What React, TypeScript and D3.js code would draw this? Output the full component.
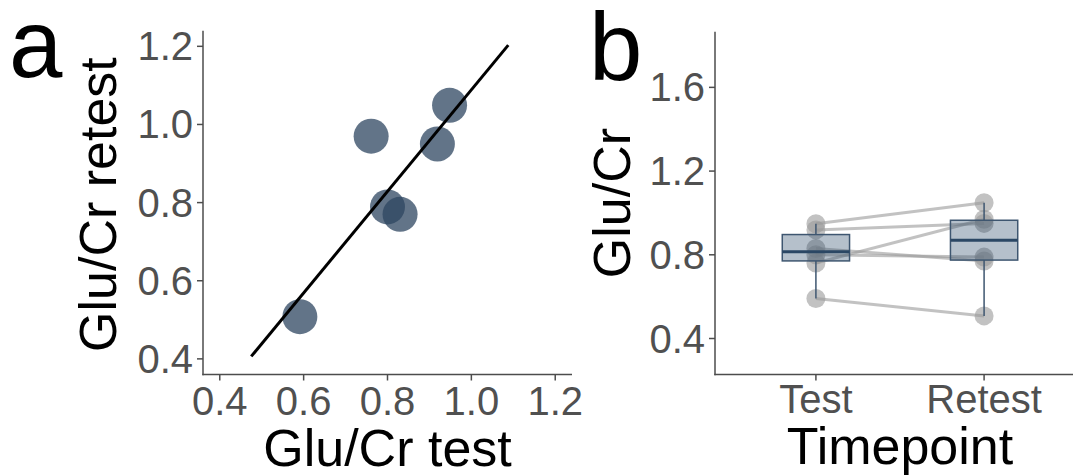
import React from "react";
import * as d3 from "d3";

const subjects = ["S1", "S2", "S3", "S4", "S5", "S6"];
const testValues = [0.761, 0.948, 0.919, 0.8, 0.83, 0.591];
const retestValues = [0.97, 1.049, 0.95, 0.789, 0.77, 0.508];
const timepoints = ["Test", "Retest"];
const scatterTicks = [0.4, 0.6, 0.8, 1.0, 1.2];
const boxTicks = [0.4, 0.8, 1.2, 1.6];
const fitRange = [0.475, 1.088];

const FONT = "'Liberation Sans', Arial, sans-serif";
const TICK_FS = 40;
const TITLE_FS = 52;

function regression(xs: number[], ys: number[]) {
  const mx = d3.mean(xs) as number;
  const my = d3.mean(ys) as number;
  let sxy = 0, sxx = 0;
  xs.forEach((x, i) => { sxy += (x - mx) * (ys[i] - my); sxx += (x - mx) ** 2; });
  const slope = sxy / sxx;
  return { slope, intercept: my - slope * mx };
}

function boxStats(vals: number[]) {
  const s = [...vals].sort(d3.ascending);
  const q1 = d3.quantileSorted(s, 0.25) as number;
  const med = d3.quantileSorted(s, 0.5) as number;
  const q3 = d3.quantileSorted(s, 0.75) as number;
  const iqr = q3 - q1;
  const lo = d3.min(s.filter((v) => v >= q1 - 1.5 * iqr)) as number;
  const hi = d3.max(s.filter((v) => v <= q3 + 1.5 * iqr)) as number;
  return { q1, med, q3, lo, hi };
}

export default function App() {
  // Panel a
  const xA = d3.scaleLinear().domain([0.36, 1.24]).range([203, 572]);
  const yA = d3.scaleLinear().domain([0.36, 1.24]).range([374.5, 30.7]);
  const fit = regression(testValues, retestValues);
  const fitLine = d3.line<number>().x((v) => xA(v)).y((v) => yA(fit.intercept + fit.slope * v));

  // Panel b
  const xB = d3.scalePoint<string>().domain(timepoints).range([715, 1085]).padding(0.6);
  const yB = d3.scaleLinear().domain([0.228, 1.866]).range([374.5, 31.7]);
  const step = xB.step();
  const boxHalf = step * 0.2;
  const series = [testValues, retestValues];

  const axisColor = "#4d4d4d";
  const tickColor = "#505050";

  return (
    <div style={{ position: "absolute", left: 0, top: 0 }}>
      <svg width={1073} height={476} style={{ display: "block", fontFamily: FONT }}>
        <rect width={1073} height={476} fill="#ffffff" />
        {/* Panel a */}
        <text x={9} y={77} fontSize={96} fill="#000">a</text>
        {scatterTicks.map((t) => (
          <g key={"ya" + t}>
            <line x1={197} x2={203} y1={yA(t)} y2={yA(t)} stroke={axisColor} strokeWidth={1.5} />
            <text x={193} y={yA(t) + 14} textAnchor="end" fontSize={TICK_FS} fill={tickColor}>{t.toFixed(1)}</text>
          </g>
        ))}
        {scatterTicks.map((t) => (
          <g key={"xa" + t}>
            <line x1={xA(t)} x2={xA(t)} y1={374.5} y2={380.5} stroke={axisColor} strokeWidth={1.5} />
            <text x={xA(t)} y={415} textAnchor="middle" fontSize={TICK_FS} fill={tickColor}>{t.toFixed(1)}</text>
          </g>
        ))}
        <line x1={203} x2={203} y1={30.7} y2={375.2} stroke={axisColor} strokeWidth={1.5} />
        <line x1={202.3} x2={572} y1={374.5} y2={374.5} stroke={axisColor} strokeWidth={1.5} />
        {testValues.map((v, i) => (
          <circle key={subjects[i]} cx={xA(v)} cy={yA(retestValues[i])} r={17.5} fill="#2e4560" fillOpacity={0.75} />
        ))}
        <path d={fitLine(fitRange) as string} stroke="#000" strokeWidth={3} fill="none" />
        <text x={387.5} y={466} textAnchor="middle" fontSize={TITLE_FS} fill="#000">Glu/Cr test</text>
        <text transform={`translate(116,${(30.7 + 374.5) / 2 + 2}) rotate(-90)`} textAnchor="middle" fontSize={TITLE_FS} fill="#000">Glu/Cr retest</text>

        {/* Panel b */}
        <text x={589} y={80} fontSize={96} fill="#000">b</text>
        {boxTicks.map((t) => (
          <g key={"yb" + t}>
            <line x1={709} x2={715} y1={yB(t)} y2={yB(t)} stroke={axisColor} strokeWidth={1.5} />
            <text x={705} y={yB(t) + 14} textAnchor="end" fontSize={TICK_FS} fill={tickColor}>{t.toFixed(1)}</text>
          </g>
        ))}
        {timepoints.map((c) => (
          <g key={"xb" + c}>
            <line x1={xB(c)} x2={xB(c)} y1={374.5} y2={380.5} stroke={axisColor} strokeWidth={1.5} />
            <text x={xB(c)} y={413} textAnchor="middle" fontSize={TICK_FS} fill={tickColor}>{c}</text>
          </g>
        ))}
        <line x1={715} x2={715} y1={31.7} y2={375.2} stroke={axisColor} strokeWidth={1.5} />
        <line x1={714.3} x2={1073} y1={374.5} y2={374.5} stroke={axisColor} strokeWidth={1.5} />
        {testValues.map((v, i) => (
          <line key={"pl" + i} x1={xB("Test")} y1={yB(v)} x2={xB("Retest")} y2={yB(retestValues[i])}
            stroke="#999" strokeOpacity={0.6} strokeWidth={3} />
        ))}
        {timepoints.map((c, ci) =>
          series[ci].map((v, i) => (
            <circle key={c + i} cx={xB(c)} cy={yB(v)} r={9.5} fill="#999" fillOpacity={0.6} />
          ))
        )}
        {timepoints.map((c, ci) => {
          const s = boxStats(series[ci]);
          const cx = xB(c) as number;
          return (
            <g key={"box" + c}>
              <line x1={cx} x2={cx} y1={yB(s.hi)} y2={yB(s.q3)} stroke="#3e5670" strokeWidth={1.5} />
              <line x1={cx} x2={cx} y1={yB(s.q1)} y2={yB(s.lo)} stroke="#3e5670" strokeWidth={1.5} />
              <rect x={cx - boxHalf} y={yB(s.q3)} width={boxHalf * 2} height={yB(s.q1) - yB(s.q3)}
                fill="#2c4a6b" fillOpacity={0.35} stroke="#3e5670" strokeWidth={1.5} />
              <line x1={cx - boxHalf} x2={cx + boxHalf} y1={yB(s.med)} y2={yB(s.med)} stroke="#2b4764" strokeWidth={3} />
            </g>
          );
        })}
        <text x={900} y={464} textAnchor="middle" fontSize={TITLE_FS} fill="#000">Timepoint</text>
        <text transform={`translate(630,${(31.7 + 374.5) / 2}) rotate(-90)`} textAnchor="middle" fontSize={TITLE_FS} fill="#000">Glu/Cr</text>
      </svg>
    </div>
  );
}
